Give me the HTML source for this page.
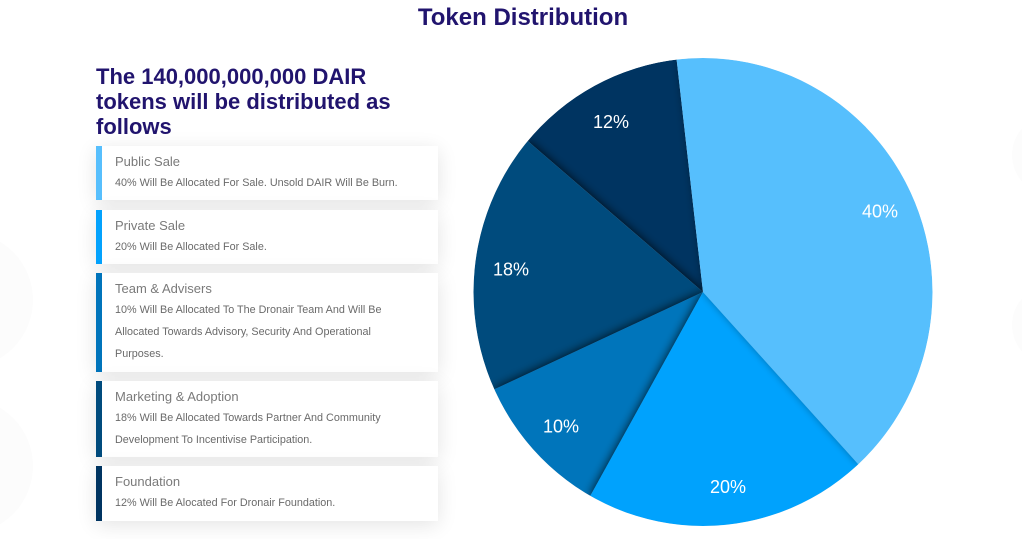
<!DOCTYPE html>
<html>
<head>
<meta charset="utf-8">
<style>
  html,body{margin:0;padding:0;}
  body{width:1022px;height:539px;overflow:hidden;background:#fff;position:relative;font-family:"Liberation Sans",Arial,sans-serif;}
  .bgc{position:absolute;border-radius:50%;background:#fcfcfc;}
  .title{position:absolute;left:0;width:1046px;top:4px;text-align:center;font-size:24px;line-height:28px;font-weight:bold;color:#21146e;}
  .heading{position:absolute;left:96px;top:64px;width:360px;font-size:22px;line-height:25px;font-weight:bold;color:#21146e;}
  .card{position:absolute;left:96px;width:342px;border-left:6px solid #000;background:#fff;box-shadow:0 4px 20px rgba(0,0,0,0.11);padding:6px 0 0 13px;box-sizing:border-box;}
  .card .t{font-size:13px;line-height:20px;color:#7a7a7a;white-space:nowrap;}
  .card .d{font-size:10.8px;line-height:22px;color:#6a6a6a;white-space:nowrap;}
  svg{position:absolute;left:0;top:0;}
</style>
</head>
<body>
<div class="bgc" style="left:-103px;top:232px;width:136px;height:136px;"></div>
<div class="bgc" style="left:-103px;top:398px;width:136px;height:136px;"></div>
<div class="bgc" style="left:1012px;top:115px;width:80px;height:80px;"></div>
<div class="bgc" style="left:1012px;top:285px;width:80px;height:80px;"></div>

<div class="title">Token Distribution</div>

<div class="heading">The 140,000,000,000 DAIR<br>tokens will be distributed as<br>follows</div>

<div class="card" style="top:146px;height:54px;border-left-color:#57bffd;">
  <div class="t">Public Sale</div>
  <div class="d">40% Will Be Allocated For Sale. Unsold DAIR Will Be Burn.</div>
</div>
<div class="card" style="top:210px;height:54px;border-left-color:#03a2fd;">
  <div class="t">Private Sale</div>
  <div class="d">20% Will Be Allocated For Sale.</div>
</div>
<div class="card" style="top:273px;height:99px;border-left-color:#0074bb;">
  <div class="t">Team &amp; Advisers</div>
  <div class="d">10% Will Be Allocated To The Dronair Team And Will Be<br>Allocated Towards Advisory, Security And Operational<br>Purposes.</div>
</div>
<div class="card" style="top:381px;height:76px;border-left-color:#004b7d;">
  <div class="t">Marketing &amp; Adoption</div>
  <div class="d">18% Will Be Allocated Towards Partner And Community<br>Development To Incentivise Participation.</div>
</div>
<div class="card" style="top:466px;height:55px;border-left-color:#003461;">
  <div class="t">Foundation</div>
  <div class="d">12% Will Be Alocated For Dronair Foundation.</div>
</div>

<svg width="1022" height="539" viewBox="0 0 1022 539">
  <defs>
    <clipPath id="pc"><ellipse cx="703" cy="292" rx="229.5" ry="234"/></clipPath>
    <filter id="sh" x="-20%" y="-20%" width="140%" height="140%">
      <feGaussianBlur in="SourceAlpha" stdDeviation="5"/>
      <feComponentTransfer><feFuncA type="linear" slope="0.85"/></feComponentTransfer>
      <feMerge><feMergeNode/><feMergeNode in="SourceGraphic"/></feMerge>
    </filter>
    <filter id="sh2" x="-20%" y="-20%" width="140%" height="140%">
      <feGaussianBlur in="SourceAlpha" stdDeviation="4"/>
      <feComponentTransfer><feFuncA type="linear" slope="0.3"/></feComponentTransfer>
      <feMerge><feMergeNode/><feMergeNode in="SourceGraphic"/></feMerge>
    </filter>
  </defs>
  <g clip-path="url(#pc)">
    <path fill="#003461" d="M703,292 L527.71,140.96 A229.5,234 0 0 1 676.62,59.55 Z"/>
    <path filter="url(#sh)" fill="#004b7d" d="M703,292 L494.33,389.41 A229.5,234 0 0 1 527.71,140.96 Z"/>
    <path filter="url(#sh)" fill="#0074bb" d="M703,292 L590.34,495.86 A229.5,234 0 0 1 494.33,389.41 Z"/>
    <path filter="url(#sh)" fill="#03a2fd" d="M703,292 L858.34,464.25 A229.5,234 0 0 1 590.34,495.86 Z"/>
    <path filter="url(#sh2)" fill="#57bffd" d="M703,292 L676.62,59.55 A229.5,234 0 0 1 858.34,464.25 Z"/>
  </g>
  <g font-family="Liberation Sans, Arial, sans-serif" font-size="18" fill="#ffffff" text-anchor="middle">
    <text x="611" y="128">12%</text>
    <text x="880" y="217.5">40%</text>
    <text x="511" y="275.5">18%</text>
    <text x="561" y="432.5">10%</text>
    <text x="728" y="493">20%</text>
  </g>
</svg>
</body>
</html>
